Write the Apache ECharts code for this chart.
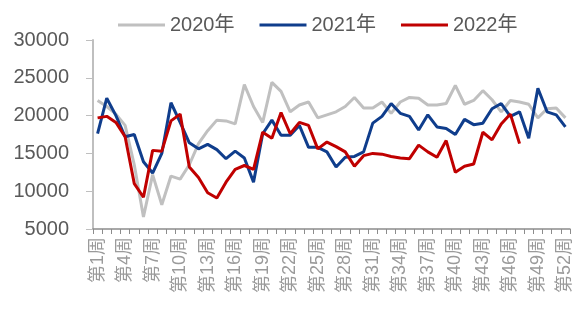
<!DOCTYPE html>
<html>
<head>
<meta charset="utf-8">
<script src="https://cdn.jsdelivr.net/npm/echarts@6/dist/echarts.min.js"></script>
<style>
	html, body { margin: 0; padding: 0; background: #fff; }
	#chart1 { width: 579px; height: 311px; }
</style>
</head>
<body>
<div id="chart1"></div>
<script>
//周次
var weeks = [];
for(var i = 1; i <= 52; i++) {
	weeks.push('第' + i + '周');
}
var seriesNames = ['2020年', '2021年', '2022年'];
//y轴刻度
var yMin = 5000;
var yMax = 30000;
var yStep = 5000;
//2020年
var data2020 = [22000, 21200, 20200, 18700, 13500, 6600, 12200, 8200, 12000, 11600,
	13500, 16300, 18000, 19400, 19300, 18900, 24100, 21200, 19100, 24400,
	23200, 20500, 21400, 21800, 19700, 20100, 20500, 21200, 22400, 21000,
	21000, 21800, 20300, 21800, 22400, 22300, 21400, 21400, 21600, 24000,
	21500, 22000, 23300, 22100, 20500, 22000, 21800, 21500, 19700, 20900,
	21000, 19700];
//2021年
var data2021 = [17600, 22300, 20000, 17200, 17500, 13900, 12400, 15000, 21700, 19100,
	16400, 15600, 16200, 15500, 14300, 15300, 14400, 11200, 17600, 19400,
	17400, 17400, 18700, 15800, 15800, 15200, 13200, 14500, 14600, 15200,
	19000, 19900, 21600, 20300, 19900, 18100, 20100, 18500, 18300, 17500,
	19500, 18800, 19000, 20900, 21600, 19900, 20500, 17000, 23600, 20500,
	20100, 18500];
//2022年
var data2022 = [19700, 19900, 19100, 17200, 11000, 9200, 15400, 15300, 19300, 20200,
	13200, 11800, 9800, 9100, 11200, 12900, 13400, 12900, 17800, 17000,
	20400, 17600, 19100, 18700, 15600, 16500, 15900, 15200, 13300, 14700,
	15000, 14900, 14600, 14400, 14300, 16100, 15200, 14500, 16700, 12500,
	13300, 13600, 17800, 16800, 18900, 20200, 16300];

var fontFamily = "'Liberation Sans', 'Noto Sans CJK SC', sans-serif";

var option1 = {
	animation: false,
	color: ['#c0c0c0', '#0f3d8c', '#c00000'],
	legend: {
		data: seriesNames,
		left: 113,
		top: 10,
		icon: 'rect',
		itemWidth: 47,
		itemHeight: 3,
		itemGap: 25,
		textStyle: {
			fontSize: 20,
			color: '#595959',
			fontFamily: fontFamily
		}
	},
	grid: {
		left: 93,
		right: 9,
		top: 40,
		bottom: 82
	},
	xAxis: {
		type: 'category',
		data: weeks,
		boundaryGap: true,
		axisLine: {
			lineStyle: {
				color: '#8c8c8c',
				width: 1.5
			}
		},
		axisTick: {
			show: true,
			interval: 0,
			length: 5,
			lineStyle: {
				color: '#8c8c8c'
			}
		},
		axisLabel: {
			interval: 2,
			rotate: 90,
			margin: 8,
			fontSize: 18,
			color: '#9a9a9a',
			fontFamily: fontFamily
		}
	},
	yAxis: {
		type: 'value',
		min: yMin,
		max: yMax,
		interval: yStep,
		axisLine: {
			show: true,
			lineStyle: {
				color: '#bfbfbf',
				width: 2
			}
		},
		axisTick: {
			show: true,
			length: 7,
			lineStyle: {
				color: '#bfbfbf'
			}
		},
		splitLine: {
			show: false
		},
		axisLabel: {
			margin: 24,
			fontSize: 20,
			color: '#595959',
			fontFamily: fontFamily,
			formatter: function(v) {
				return String(v);
			}
		}
	},
	series: [{
		name: seriesNames[0],
		type: 'line',
		data: data2020,
		symbol: 'none',
		lineStyle: { width: 3 }
	}, {
		name: seriesNames[1],
		type: 'line',
		data: data2021,
		symbol: 'none',
		lineStyle: { width: 3 }
	}, {
		name: seriesNames[2],
		type: 'line',
		data: data2022,
		symbol: 'none',
		lineStyle: { width: 3 }
	}]
};
var echarts1 = echarts.init(document.getElementById('chart1'));
echarts1.setOption(option1);
</script>
</body>
</html>
